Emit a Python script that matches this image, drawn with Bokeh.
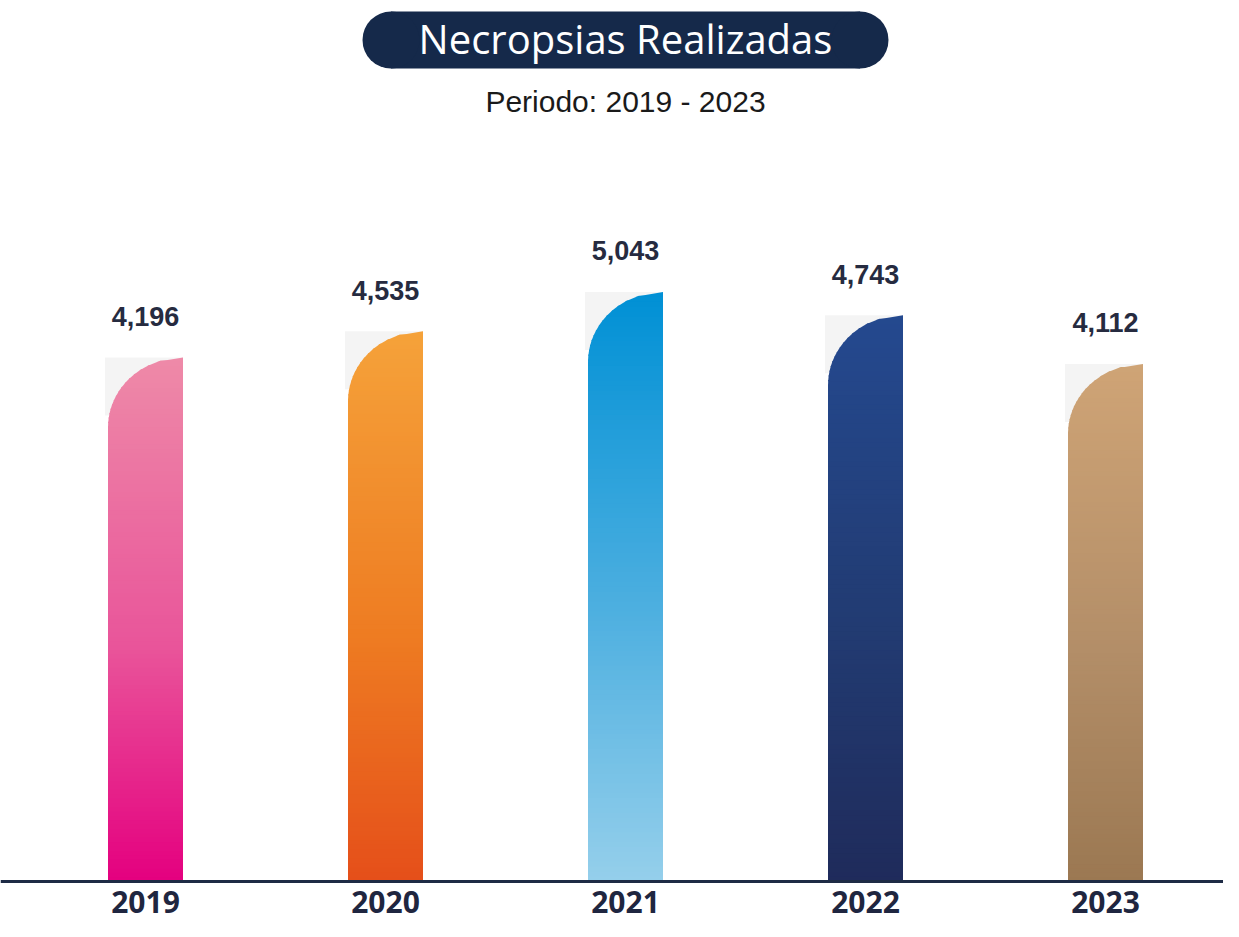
import numpy as np
from bokeh.plotting import figure
from bokeh.models import Range1d, Span
from bokeh.core.properties import value
from bokeh.embed import file_html
from bokeh.resources import INLINE

# ---------------- data ----------------
years = ["2019", "2020", "2021", "2022", "2023"]
necropsias = [4196, 4535, 5043, 4743, 4112]
color_top = ["#ee8aa8", "#f5a23a", "#0090d5", "#24498f", "#cfa476"]
color_mid = ["#e9559a", "#ee7c22", "#4fb0e0", "#223b72", "#b38e68"]
color_bottom = ["#e4007f", "#e54f1a", "#95cfeb", "#1f2b5b", "#9b7852"]
title_text = "Necropsias Realizadas"
subtitle_text = "Periodo: 2019 - 2023"

# ---------------- layout ----------------
W, H = 1223, 921
PX_PER_UNIT = 0.07731      # vertical scale
BASE = -2583               # value sitting on the baseline
UPP = 1.0 / PX_PER_UNIT
SLOT = 240.0               # px per category
X_CENTER_PX = 625.0        # px position of middle category
BASE_PX = 881.0            # baseline, px from top

x_start = 2 - X_CENTER_PX / SLOT
x_end = x_start + W / SLOT
y_start = BASE - (H - BASE_PX) * UPP
y_end = y_start + H * UPP


def sx(px):
    return x_start + px / SLOT


def sy(py):
    return y_end - py * UPP


NAVY = "#15294a"
TEXT_DARK = "#262b40"

p = figure(width=W, height=H, output_backend="svg", toolbar_location=None,
           x_range=Range1d(x_start, x_end), y_range=Range1d(y_start, y_end),
           min_border=0, background_fill_color="white", border_fill_color="white")
p.outline_line_color = None
p.xaxis.visible = False
p.yaxis.visible = False
p.xgrid.visible = False
p.ygrid.visible = False


def hex2rgb(h):
    h = h.lstrip("#")
    return np.array([int(h[i:i + 2], 16) for i in (0, 2, 4)], dtype=float)


def rgb2hex(c):
    c = np.clip(np.round(c), 0, 255).astype(int)
    return "#%02x%02x%02x" % tuple(c)


def grad(t, cb, cm, ct, tm=0.45):
    if t <= tm:
        return cb + (cm - cb) * (t / tm)
    return cm + (ct - cm) * ((t - tm) / (1 - tm))


half_w = 37.5 / SLOT
bar_w = 2 * half_w
ry = 70 * UPP
N = 120
OVER = 1.2 * UPP

xs, ys, cols = [], [], []
sh_l, sh_r, sh_t, sh_b = [], [], [], []
for i, v in enumerate(necropsias):
    L0 = i - half_w
    R = i + half_w
    top = v
    cb, cm, ct = hex2rgb(color_bottom[i]), hex2rgb(color_mid[i]), hex2rgb(color_top[i])

    def left(y):
        yc = top - ry
        if y <= yc:
            return L0
        u = min(1.0, (y - yc) / ry)
        return R - bar_w * np.sqrt(max(0.0, 1 - u * u))

    yy = np.linspace(BASE, top, N + 1)
    for k in range(N):
        y0 = yy[k]
        y1 = min(top, yy[k + 1] + OVER)
        t = ((yy[k] + yy[k + 1]) / 2 - BASE) / (top - BASE)
        xs.append([left(y0), R, R, left(y1)])
        ys.append([y0, y0, y1, y1])
        cols.append(rgb2hex(grad(t, cb, cm, ct)))
    sh_l.append(L0 - 3 / SLOT)
    sh_r.append(R)
    sh_t.append(top)
    sh_b.append(top - 58 * UPP)

# soft grey shadow behind rounded corners
p.quad(left=sh_l, right=sh_r, top=sh_t, bottom=sh_b, fill_color="#e6e6e6",
       fill_alpha=0.45, line_color=None)

p.patches(xs=xs, ys=ys, fill_color=cols, line_color=None)

# baseline
p.add_layout(Span(location=BASE, dimension="width", line_color="#1e2b45", line_width=3))

idx = list(range(len(years)))

# value labels
p.text(x=idx, y=[v + 41 * UPP for v in necropsias], text=[f"{v:,}" for v in necropsias],
       text_align="center", text_baseline="middle", text_font=value("Liberation Sans"),
       text_font_style="bold", text_font_size="27px", text_color=TEXT_DARK)

# year labels
p.text(x=idx, y=[sy(901)] * len(years), text=years,
       text_align="center", text_baseline="middle", text_font=value("Open Sans"),
       text_font_style="bold", text_font_size="30px", text_color="#1f2640")

# title pill
p.quad(left=[sx(362 + 28.5)], right=[sx(888 - 28.5)], top=[sy(11)], bottom=[sy(68)],
       fill_color=NAVY, line_color=None)
p.scatter(x=[sx(362 + 28.5), sx(888 - 28.5)], y=[sy(39.5)] * 2, size=57,
          marker="circle", fill_color=NAVY, line_color=None)
p.text(x=[sx(625)], y=[sy(38)], text=[title_text], text_align="center",
       text_baseline="middle", text_font=value("Open Sans"), text_font_size="40px",
       text_color="white")

# subtitle
p.text(x=[sx(625)], y=[sy(101)], text=[subtitle_text], text_align="center",
       text_baseline="middle", text_font=value("Liberation Sans"), text_font_size="30px",
       text_color="#1a1a1a")

open("out.html", "w").write(file_html(p, INLINE))
